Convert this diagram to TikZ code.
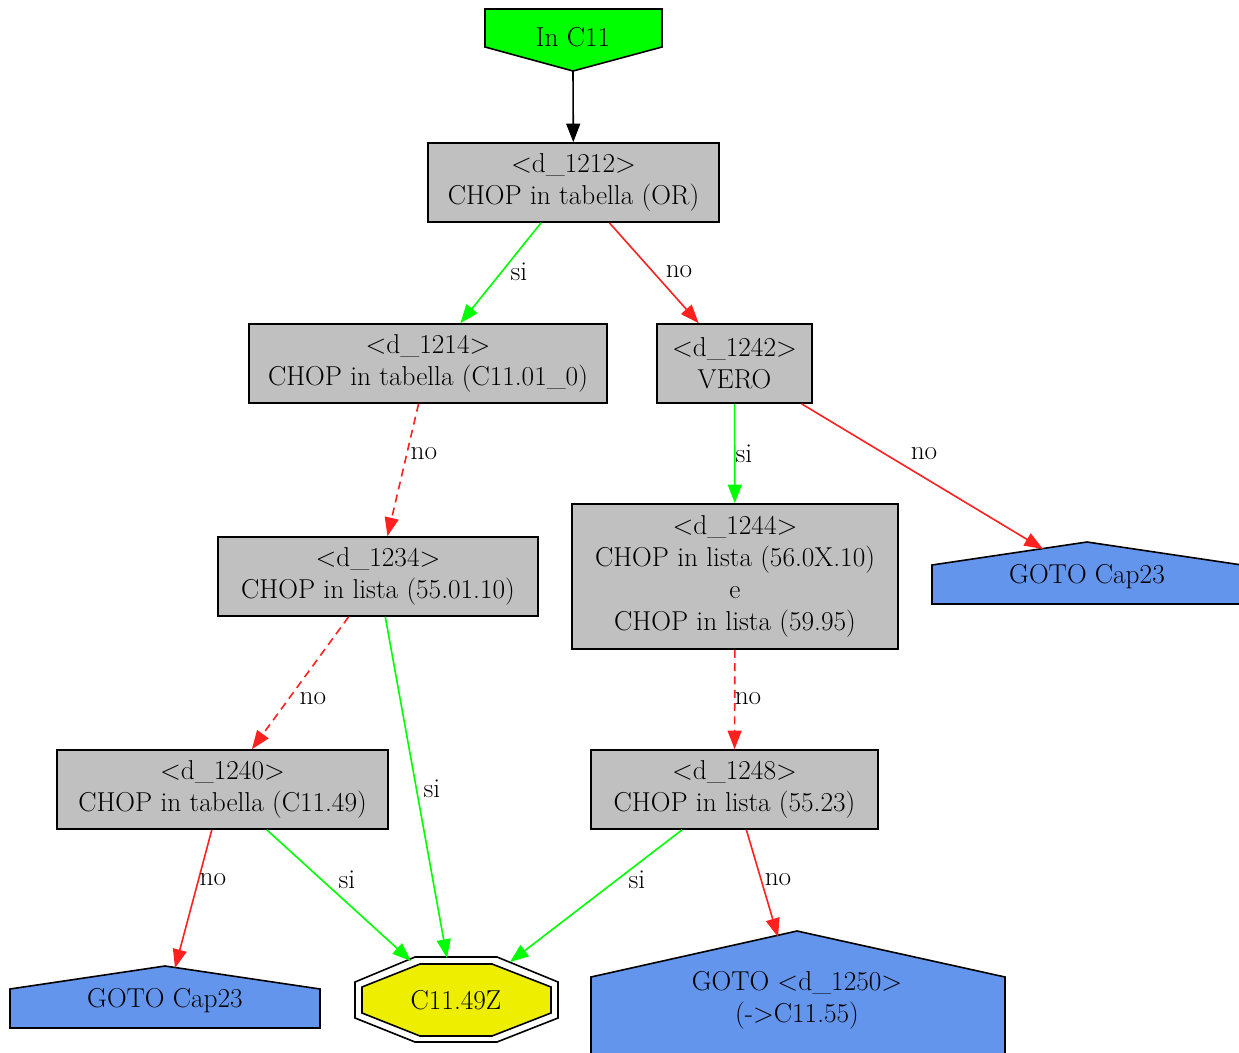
\documentclass[tikz,border=0pt]{standalone}
\usetikzlibrary{arrows.meta}
\definecolor{boxgray}{HTML}{C0C0C0}
\definecolor{vgreen}{HTML}{00FF00}
\definecolor{vred}{HTML}{FF2020}
\definecolor{cblue}{HTML}{6495ED}
\definecolor{yel}{HTML}{EEEE00}
\begin{document}
\begin{tikzpicture}[x=0.75pt,y=-0.75pt,
  font=\fontsize{20.5}{24}\selectfont,
  box/.style 2 args={draw=black,fill=boxgray,line width=1.2pt,align=center,inner sep=0pt,
    minimum width=#1*0.75pt,minimum height=#2*0.75pt},
  shp/.style={draw=black,line width=1.2pt},
  txt/.style={inner sep=0pt,align=center},
  lbl/.style={inner sep=0pt,anchor=center},
  edge/.style={line width=1.2pt,-{Triangle[length=14pt,width=10.5pt]}},
  yes/.style={edge,draw=vgreen},
  nope/.style={edge,draw=vred},
  dsh/.style={dash pattern=on 6pt off 4pt}]
\useasboundingbox (0,0) rectangle (1239,1053);
\clip (0,0) rectangle (1239,1053);

% In C11 (invhouse)
\filldraw[shp,fill=vgreen] (485,9) -- (662,9) -- (662,47) -- (573,71) -- (485,47) -- cycle;
\node[txt] (inc) at (573,37) {In C11};
\coordinate (incout) at (573,71);

% boxes
\node[box={291}{79}] (d1212) at (573.5,182.5) {<d\_1212>\\CHOP in tabella (OR)};
\node[box={358}{79}] (d1214) at (428,363.5) {<d\_1214>\\CHOP in tabella (C11.01\_0)};
\node[box={155}{79}] (d1242) at (734.5,363.5) {<d\_1242>\\VERO};
\node[box={320}{79}] (d1234) at (378,576.5) {<d\_1234>\\CHOP in lista (55.01.10)};
\node[box={326}{145}] (d1244) at (735,576.5) {<d\_1244>\\CHOP in lista (56.0X.10)\\e\\CHOP in lista (59.95)};
\node[box={331}{79}] (d1240) at (222.5,789.5) {<d\_1240>\\CHOP in tabella (C11.49)};
\node[box={287}{79}] (d1248) at (734.5,789.5) {<d\_1248>\\CHOP in lista (55.23)};

% GOTO Cap23 right (house)
\filldraw[shp,fill=cblue] (932,604) -- (932,565) -- (1087,542) -- (1242,565) -- (1242,604) -- cycle;
\node[txt] (gr) at (1087,577) {GOTO Cap23};
\coordinate (grin) at (1043,549);

% GOTO Cap23 left (house)
\filldraw[shp,fill=cblue] (10,1028) -- (10,989) -- (165,966) -- (320,989) -- (320,1028) -- cycle;
\node[txt] (gl) at (165,1001) {GOTO Cap23};
\coordinate (glin) at (175,968);

% GOTO d_1250 (house)
\filldraw[shp,fill=cblue] (591,1062) -- (591,977) -- (797,931) -- (1005,977) -- (1005,1062) -- cycle;
\node[txt] (g1250) at (797,1000) {GOTO <d\_1250>\\(->C11.55)};
\coordinate (g1250in) at (778,937);

% C11.49Z (double octagon)
\filldraw[shp,fill=white] (415,957) -- (497,957) -- (558,982) -- (558,1018) -- (497,1042) -- (415,1042) -- (355,1018) -- (355,982) -- cycle;
\filldraw[shp,fill=yel] (420,964) -- (492,964) -- (551,987) -- (551,1013) -- (492,1036) -- (420,1036) -- (362,1013) -- (362,987) -- cycle;
\node[txt] (c49) at (456,1000) {C11.49Z};
\coordinate (c49a) at (411,961);
\coordinate (c49b) at (447,958);
\coordinate (c49c) at (510,962);

% edges
\draw[edge,draw=black] (incout) -- (d1212);
\draw[yes] (d1212) -- (d1214);
\node[lbl] (l1) at (519,272) {si};
\draw[nope] (d1212) -- (d1242);
\node[lbl] (l2) at (679,272) {no};
\draw[nope,dsh] (d1214) -- (d1234);
\node[lbl] (l3) at (424,454) {no};
\draw[yes] (d1242) -- (d1244);
\node[lbl] (l4) at (744,454) {si};
\draw[nope] (d1242) -- (grin);
\node[lbl] (l5) at (924,454) {no};
\draw[nope,dsh] (d1234) -- (d1240);
\node[lbl] (l6) at (313,699) {no};
\draw[yes] (d1234) -- (c49b);
\node[lbl] (l7) at (432,789) {si};
\draw[nope,dsh] (d1244) -- (d1248);
\node[lbl] (l8) at (748,699) {no};
\draw[nope] (d1240) -- (glin);
\node[lbl] (l9) at (213,880) {no};
\draw[yes] (d1240) -- (c49a);
\node[lbl] (l10) at (347,880) {si};
\draw[yes] (d1248) -- (c49c);
\node[lbl] (l11) at (637,880) {si};
\draw[nope] (d1248) -- (g1250in);
\node[lbl] (l12) at (778,880) {no};
\end{tikzpicture}
\end{document}
